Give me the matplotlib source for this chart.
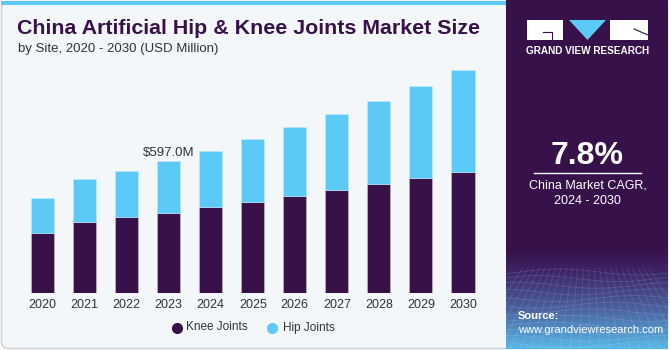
import numpy as np
import matplotlib
matplotlib.use("Agg")
import matplotlib.pyplot as plt
from matplotlib.patches import FancyBboxPatch, Rectangle, Polygon
from matplotlib.colors import LinearSegmentedColormap

plt.rcParams['font.family'] = ['Liberation Sans', 'DejaVu Sans']

# Market size by site (USD Million)
years = ["2020", "2021", "2022", "2023", "2024", "2025", "2026", "2027", "2028", "2029", "2030"]
knee_joints = [270.7, 323.0, 343.0, 363.7, 389.4, 413.3, 439.0, 466.0, 493.0, 520.0, 547.4]
hip_joints = [158.0, 192.8, 210.0, 233.3, 254.1, 281.7, 310.0, 341.7, 376.0, 415.4, 461.6]
highlight_year = "2023"
highlight_label = "$597.0M"
cagr_text = "7.8%"

KNEE = "#371148"
HIP = "#5ccaf6"
PANEL = "#37124a"
BG = "#f3f7fa"
TEXT = "#333333"

W, H = 671, 350
fig = plt.figure(figsize=(W / 100, H / 100), dpi=100)
fig.patch.set_facecolor("white")


def fx(px):
    return px / W


# background layer: card, top strip and side panel
bg = fig.add_axes([0, 0, 1, 1], zorder=0)
bg.set_axis_off()
bg.set_xlim(0, W)
bg.set_ylim(H, 0)
bg.add_patch(FancyBboxPatch((1.5, 1.5), 666, 347,
                            boxstyle="round,pad=0,rounding_size=7",
                            facecolor=BG, edgecolor="#cfd3d6", linewidth=1.2,
                            zorder=0))
bg.add_patch(Rectangle((1, 0.5), 506, 4.5, facecolor=HIP, edgecolor="none", zorder=1))

# side panel with gradient towards the bottom
grad = np.linspace(0, 1, 300)[:, None]
cmap = LinearSegmentedColormap.from_list(
    "panel", [(0.0, PANEL), (0.72, PANEL), (0.78, "#3d2466"),
              (0.89, "#4a62a0"), (1.0, "#58b6e6")])
bg.imshow(grad, aspect="auto", cmap=cmap, extent=[506, 668, 349, 0],
          origin="upper", interpolation="bilinear", zorder=2)
# faint mesh texture in the lower panel
xs = np.linspace(506, 668, 60)
for yy in np.linspace(272, 345, 12):
    bg.plot(xs, yy + 3 * np.sin((xs - 506) / 25 + yy / 8), color="white",
            alpha=0.13, lw=0.6, zorder=3)
for xx in np.linspace(470, 700, 24):
    bg.plot([xx, 587 + (xx - 587) * 0.55], [349, 268], color="white",
            alpha=0.12, lw=0.6, zorder=3)

# logo
bg.add_patch(Rectangle((527, 20), 36, 20, facecolor="white", edgecolor="none", zorder=4))
bg.add_patch(Rectangle((610, 20), 38, 20, facecolor="white", edgecolor="none", zorder=4))
bg.add_patch(Polygon([(569, 20), (606, 20), (587.5, 40)], closed=True,
                     facecolor=HIP, edgecolor="none", zorder=4))
bg.plot([543, 552, 552], [32, 32, 40], color=PANEL, lw=0.8, zorder=5)
bg.plot([634, 648], [29, 35], color=PANEL, lw=0.8, zorder=5)
bg.text(587.5, 51, "GRAND VIEW RESEARCH", color="white", fontsize=7.2,
        fontweight="bold", ha="center", va="center", zorder=5)

# CAGR block
bg.text(587.5, 156, cagr_text, color="white", fontsize=23,
        fontweight="bold", ha="center", va="center", zorder=5)
bg.plot([534, 641], [173, 173], color="white", lw=1.0, zorder=5)
bg.text(587.5, 186, "China Market CAGR,", color="white", fontsize=9,
        ha="center", va="center", zorder=5)
bg.text(587.5, 201, "2024 - 2030", color="white", fontsize=9,
        ha="center", va="center", zorder=5)
bg.text(518, 316, "Source:", color="white", fontsize=8,
        fontweight="bold", ha="left", va="center", zorder=5)
bg.text(518, 330, "www.grandviewresearch.com", color="white", fontsize=8,
        ha="left", va="center", zorder=5)

# titles
bg.text(17, 28, "China Artificial Hip & Knee Joints Market Size",
        color="#371148", fontsize=15.4, fontweight="bold", ha="left", va="center", zorder=5)
bg.text(18, 49, "by Site, 2020 - 2030 (USD Million)",
        color=TEXT, fontsize=9.5, ha="left", va="center", zorder=5)

# legend
bg.plot([177], [327.5], marker="o", markersize=7, color=KNEE, lw=0, zorder=5)
bg.text(186, 327.5, "Knee Joints", fontsize=8.5, color=TEXT,
        ha="left", va="center", zorder=5)
bg.plot([272], [327.5], marker="o", markersize=7, color=HIP, lw=0, zorder=5)
bg.text(283, 327.5, "Hip Joints", fontsize=8.5, color=TEXT,
        ha="left", va="center", zorder=5)

# stacked bars
ax = fig.add_axes([fx(21.5), 1 - 293.3 / H, fx(462.5), 243.8 / H], zorder=2)
ax.set_facecolor("none")
x = np.arange(len(years))
ax.bar(x, knee_joints, width=0.55, color=KNEE, edgecolor="#c9c2d2",
       linewidth=0.4, zorder=2)
ax.bar(x, hip_joints, bottom=knee_joints, width=0.55, color=HIP,
       edgecolor="#c2e9fb", linewidth=0.4, zorder=2)
ax.set_xlim(-0.5, len(years) - 0.5)
ax.set_ylim(0, 1100)
for s in ax.spines.values():
    s.set_visible(False)
ax.set_yticks([])
ax.set_xticks(x)
ax.set_xticklabels(years, fontsize=9, color=TEXT)
ax.tick_params(axis="x", length=0, pad=4)

i = years.index(highlight_year)
total = knee_joints[i] + hip_joints[i]
ax.text(x[i], total + 35, highlight_label, ha="center", va="center",
        fontsize=9.5, color=TEXT)

fig.savefig("out.png", dpi=100, facecolor=fig.get_facecolor())
